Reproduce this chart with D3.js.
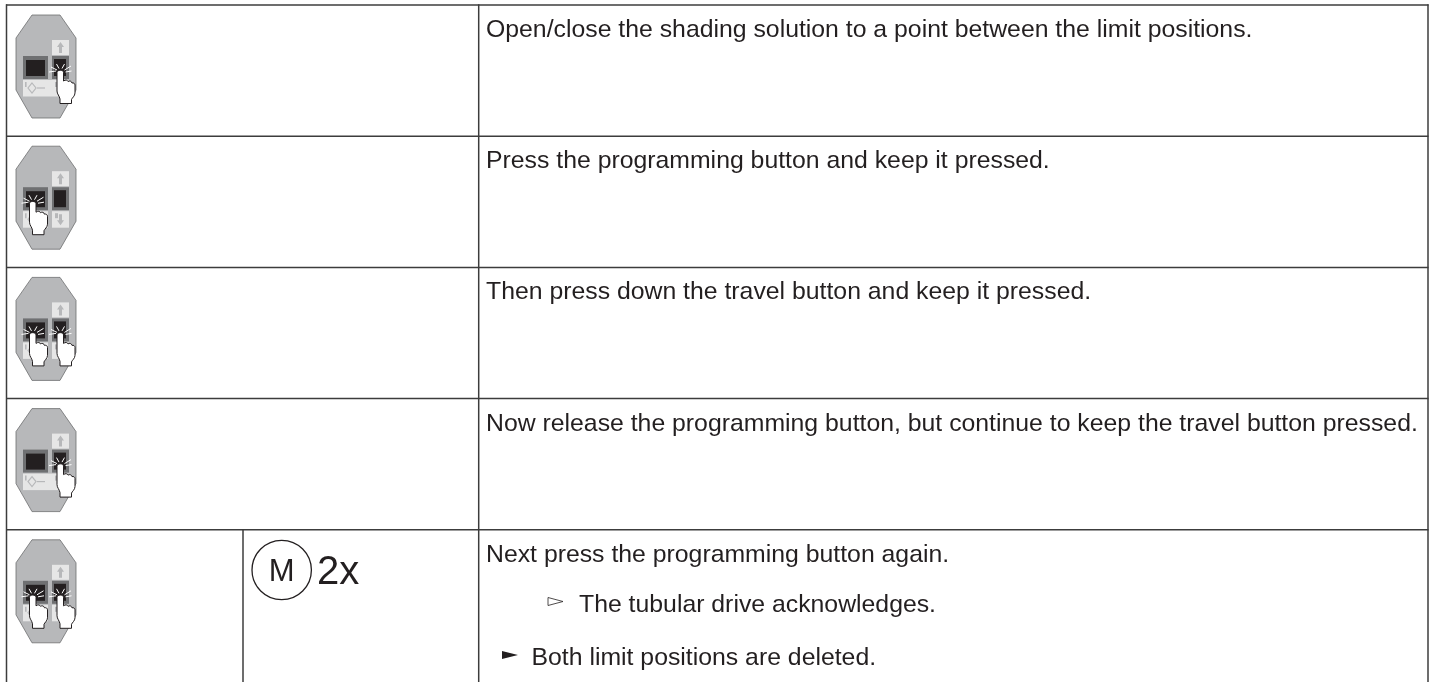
<!DOCTYPE html>
<html>
<head>
<meta charset="utf-8">
<script src="https://cdn.jsdelivr.net/npm/d3@7"></script>
<style>
html,body{margin:0;padding:0;background:#fff;overflow:hidden}
svg{filter:blur(0.35px)}
</style>
</head>
<body>
<div id="viz"></div>
<script>
var width = 1435
var height = 682

// one entry per row of the table
var rowIndex = [0,1,2,3,4]
var rowTexts = [
	"Open/close the shading solution to a point between the limit positions.",
	"Press the programming button and keep it pressed.",
	"Then press down the travel button and keep it pressed.",
	"Now release the programming button, but continue to keep the travel button pressed.",
	"Next press the programming button again."
]
// which button gets pressed on the remote in each row
var pressedLeft = [false,true,true,false,true]
var pressedRight = [true,false,true,true,true]
var resultText = "The tubular drive acknowledges."
var finalText = "Both limit positions are deleted."
var multiLabel = "M"
var countLabel = "2x"

var canvas = d3.select("#viz")
	.append("svg")
	.attr("width",width)
	.attr("height",height)
	.style("display","block");

var rowScale = d3.scaleLinear()
	.domain([0,5])
	.range([5,661]);

var lines = canvas.append("g")
	.attr("stroke","#3c3c3c")
	.attr("stroke-width",1.5)
	.attr("fill","none");

lines.selectAll(".rowline")
	.data(rowIndex)
	.enter()
	.append("line")
		.attr("x1",6)
		.attr("x2",1428.5)
		.attr("y1",function(d){return rowScale(d);})
		.attr("y2",function(d){return rowScale(d);});

lines.selectAll(".colline")
	.data([6.5,478.7,1428])
	.enter()
	.append("line")
		.attr("x1",function(d){return d;})
		.attr("x2",function(d){return d;})
		.attr("y1",4.3)
		.attr("y2",height);

lines.append("line")
	.attr("x1",243).attr("x2",243)
	.attr("y1",rowScale(4)).attr("y2",height);

var textColor = "#231f20"
var fontName = "'Liberation Sans',Arial,sans-serif"
var fontSize = 24.8

canvas.selectAll(".rowtext")
	.data(rowIndex)
	.enter()
	.append("text")
		.attr("x",486)
		.attr("y",function(d){return rowScale(d)+32;})
		.attr("font-family",fontName)
		.attr("font-size",fontSize)
		.attr("fill",textColor)
		.text(function(d){return rowTexts[d];});

// the two sub lines in the last row
canvas.append("text")
	.attr("x",579).attr("y",611.5)
	.attr("font-family",fontName).attr("font-size",fontSize).attr("fill",textColor)
	.text(resultText);

canvas.append("path")
	.attr("d","M548,597.5L563,601.5L548,605.5Z")
	.attr("fill","#fff").attr("stroke",textColor).attr("stroke-width",0.8);

canvas.append("text")
	.attr("x",531.5).attr("y",664.5)
	.attr("font-family",fontName).attr("font-size",fontSize).attr("fill",textColor)
	.text(finalText);

canvas.append("path")
	.attr("d","M502,651L518,655L502,659Z")
	.attr("fill",textColor);

// M in a circle + count
canvas.append("circle")
	.attr("cx",281.7).attr("cy",570).attr("r",29.7)
	.attr("fill","none").attr("stroke",textColor).attr("stroke-width",1.3);

canvas.append("text")
	.attr("x",281.7).attr("y",581)
	.attr("text-anchor","middle")
	.attr("font-family",fontName).attr("font-size",31).attr("fill",textColor)
	.text(multiLabel);

canvas.append("text")
	.attr("x",317).attr("y",584)
	.attr("font-family",fontName).attr("font-size",40).attr("fill",textColor)
	.text(countLabel);

// the remote control icon, drawn in row-local pixels
function drawHand(g,tipX,tipY){
	var h = g.append("g").attr("transform","translate("+tipX+","+tipY+")");
	h.append("path")
		.attr("d","M-3.5,1.5C-3.5,-1.5,3,-1.5,3,1.5L3,10C5,8.5,7,9,7.5,10.5C9,9.5,11,10,11.5,12C13,11.5,14.5,12.5,14.5,14L14.5,22C14.5,25,11.5,27,11,28.5L11,32.5L-0.5,32.5L-0.5,28C-1,25,-3.5,23,-3.5,20Z")
		.attr("fill","#fff")
		.attr("stroke","#231f20")
		.attr("stroke-width",1);
	// rays round the finger tip
	var rays = [[-11.5,1,-4.5,0],[-9.5,-4,-3.5,-1],[-4,-7,-1.5,-2.5],[4,-7,1.5,-2.5],[10.5,-5,4,-1],[11,0,5,1]];
	h.selectAll("line")
		.data(rays)
		.enter()
		.append("line")
			.attr("x1",function(d){return d[0];})
			.attr("y1",function(d){return d[1];})
			.attr("x2",function(d){return d[2];})
			.attr("y2",function(d){return d[3];})
			.attr("stroke","#fff")
			.attr("stroke-width",1);
}

function drawRemote(i){
	var g = canvas.append("g")
		.attr("transform","translate(0,"+(rowScale(i)-5)+")");

	g.append("polygon")
		.attr("points","32,15 60,15 76,38 76,90 60,118 32,118 16,90 16,38")
		.attr("fill","#b7b8ba")
		.attr("stroke","#6d6e70")
		.attr("stroke-width",0.8);

	// light panels behind the arrows
	g.append("rect").attr("x",52).attr("y",40).attr("width",17).attr("height",15).attr("fill","#e6e6e6");
	if (!pressedLeft[i]) {
		g.append("rect").attr("x",23).attr("y",80).attr("width",46).attr("height",16.5).attr("fill","#e6e6e6");
	} else {
		g.append("rect").attr("x",23).attr("y",80).attr("width",25).attr("height",16.5).attr("fill","#e6e6e6");
		g.append("rect").attr("x",52).attr("y",80).attr("width",17).attr("height",16.5).attr("fill","#e6e6e6");
	}

	// up arrow
	g.append("path").attr("d","M60.5,42L64,47H62V53H59V47H57Z").attr("fill","#b7b8ba");
	// lower marks
	g.append("path").attr("d","M25,82h1.6v5h-1.6Z").attr("fill","#b7b8ba");
	g.append("path").attr("d","M32,83L36,88L32,93L28,88Z").attr("fill","none").attr("stroke","#b7b8ba").attr("stroke-width",1.2);
	g.append("path").attr("d","M37,88h8").attr("stroke","#b7b8ba").attr("stroke-width",1.2);
	g.append("path").attr("d","M55,82h3v5h-3Z").attr("fill","#b7b8ba");
	g.append("path").attr("d","M60.5,94L64,89H62V83H59V89H57Z").attr("fill","#b7b8ba");

	// buttons
	g.append("rect").attr("x",23).attr("y",56).attr("width",25).attr("height",23).attr("fill","#6f7072");
	g.append("rect").attr("x",26).attr("y",60).attr("width",19).attr("height",16).attr("fill","#231f20");
	g.append("rect").attr("x",52).attr("y",56).attr("width",17).attr("height",23).attr("fill","#6f7072");
	g.append("rect").attr("x",54).attr("y",59).attr("width",12).attr("height",17).attr("fill","#231f20");

	if (pressedLeft[i]) drawHand(g,33,71);
	if (pressedRight[i]) drawHand(g,60.5,71);
}

rowIndex.forEach(drawRemote);
</script>
</body>
</html>
